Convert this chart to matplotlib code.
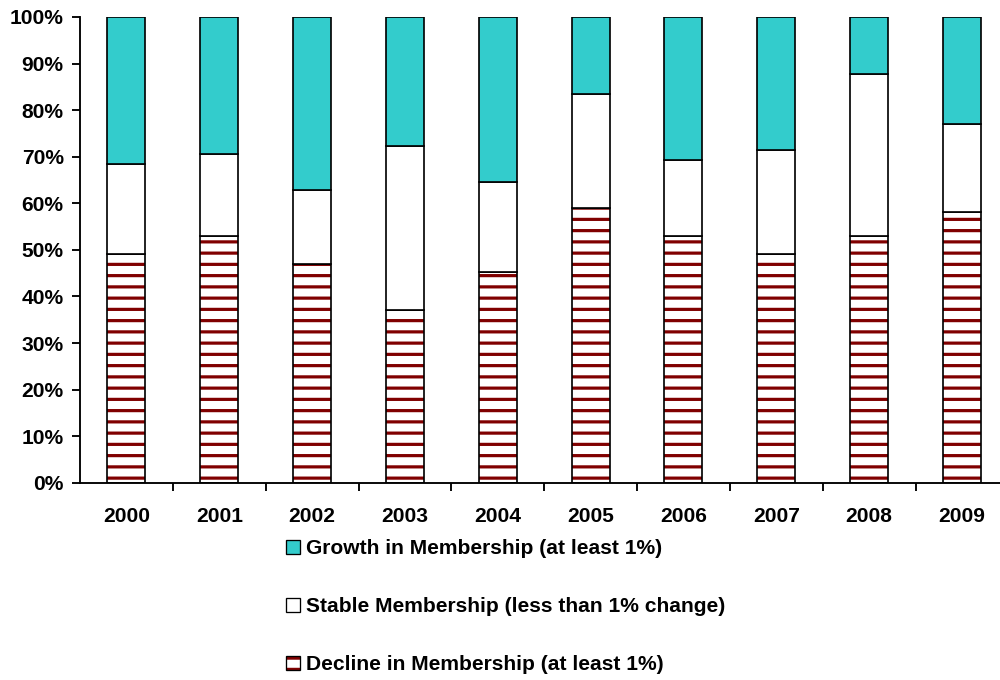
import matplotlib.pyplot as plt
import matplotlib.patches as mpatches
import numpy as np

years = ['2000', '2001', '2002', '2003', '2004', '2005', '2006', '2007', '2008', '2009']
decline = [49.1, 53.0, 47.0, 37.1, 45.3, 59.0, 53.0, 49.1, 53.0, 58.2]
stable = [19.4, 17.6, 15.9, 35.2, 19.3, 24.5, 16.3, 22.4, 34.8, 18.8]
growth = [31.5, 29.4, 37.1, 27.7, 35.4, 16.5, 30.7, 28.5, 12.2, 23.0]

labels = ['Growth in Membership (at least 1%)',
          'Stable Membership (less than 1% change)',
          'Decline in Membership (at least 1%)']

DPI = 135
RED = '#800000'
TEAL = '#33CCCC'
plt.rcParams['font.family'] = ['Liberation Sans', 'DejaVu Sans']
plt.rcParams['font.weight'] = 'bold'
plt.rcParams['hatch.linewidth'] = 1.7

fig = plt.figure(figsize=(1000 / DPI, 680 / DPI), dpi=DPI)
ax = fig.add_axes([0.08, 0.29, 0.92, 0.685])

x = np.arange(len(years))
w = 0.41
bot2 = np.array(decline)
bot3 = bot2 + np.array(stable)
# hatch takes the edge colour, so draw the red hatch and the black outline separately
ax.bar(x, decline, w, color='white', edgecolor=RED, hatch='--', linewidth=0)
ax.bar(x, decline, w, color='none', edgecolor='black', linewidth=0.9)
ax.bar(x, stable, w, bottom=bot2, color='white', edgecolor='black', linewidth=0.9)
ax.bar(x, growth, w, bottom=bot3, color=TEAL, edgecolor='black', linewidth=0.9)

ax.set_ylim(0, 100)
ax.set_xlim(-0.5, 9.41)
ax.set_yticks(range(0, 101, 10))
ax.set_yticklabels([f'{v}%' for v in range(0, 101, 10)], fontsize=11.2, fontweight='bold')
ax.set_xticks(x)
ax.set_xticklabels(years, fontsize=11.2, fontweight='bold')
ax.set_xticks(np.arange(0.5, 9.5, 1), minor=True)
ax.tick_params(axis='x', which='major', length=0, pad=13)
ax.tick_params(axis='x', which='minor', length=4, width=1, direction='out')
ax.tick_params(axis='y', length=4.2, width=1, direction='out', pad=4.5)
for s in ['top', 'right']:
    ax.spines[s].set_visible(False)
for s in ['left', 'bottom']:
    ax.spines[s].set_linewidth(1)

h_growth = mpatches.Patch(facecolor=TEAL, edgecolor='black', linewidth=0.7)
h_stable = mpatches.Patch(facecolor='white', edgecolor='black', linewidth=0.7)
h_decline_fill = mpatches.Patch(facecolor='white', edgecolor=RED, hatch='--', linewidth=0)
h_decline_edge = mpatches.Patch(facecolor='none', edgecolor='black', linewidth=0.7)
fig.legend([h_growth, h_stable, (h_decline_fill, h_decline_edge)], labels,
           loc='upper left', bbox_to_anchor=(0.286, 0.207),
           frameon=False, prop={'weight': 'bold', 'size': 11.2},
           labelspacing=1.85, handlelength=0.65, handleheight=0.65, handletextpad=0.3,
           borderpad=0, borderaxespad=0)

fig.savefig('out.png', dpi=DPI)
